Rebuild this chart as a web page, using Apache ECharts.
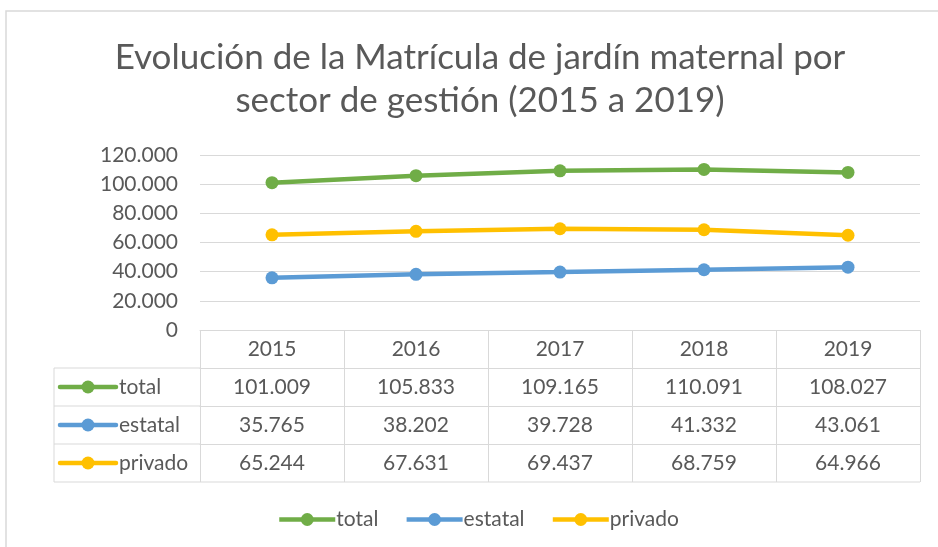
<!DOCTYPE html>
<html>
<head>
    <meta charset="utf-8">
    <title>Matrícula jardín maternal</title>
    <script src="https://cdn.jsdelivr.net/npm/echarts@6/dist/echarts.min.js"></script>
    <style>
        html, body { margin: 0; padding: 0; background: #fff; }
        #chart { width: 938px; height: 547px; }
    </style>
</head>
<body>
<div id="chart"></div>
<script type="text/javascript">
    // datos
    var years = ['2015', '2016', '2017', '2018', '2019'];
    var seriesNames = ['total', 'estatal', 'privado'];
    var total = [101009, 105833, 109165, 110091, 108027];
    var estatal = [35765, 38202, 39728, 41332, 43061];
    var privado = [65244, 67631, 69437, 68759, 64966];
    var colors = ['#70AD47', '#5B9BD5', '#FFC000'];

    var rows = [total, estatal, privado];
    var FONT = 'Lato';
    var GRAY = '#595959';
    var LINE = '#d9d9d9';
    var ROW_H = 38;
    var FS = 21;

    // 101009 -> "101.009"
    function fmt(v) {
        return String(v).replace(/\B(?=(\d{3})+(?!\d))/g, '.');
    }

    var myChart = echarts.init(document.getElementById('chart'));

    // eje principal (años) + un eje por fila de la tabla
    var xAxes = [{
        type: 'category',
        data: years,
        boundaryGap: true,
        axisLine: { lineStyle: { color: LINE, width: 1 } },
        axisTick: { show: true, length: ROW_H, interval: 0, lineStyle: { color: LINE } },
        axisLabel: { fontSize: FS, color: GRAY, fontFamily: FONT, margin: 9, interval: 0 }
    }];
    rows.forEach(function (r, i) {
        xAxes.push({
            type: 'category',
            position: 'bottom',
            offset: ROW_H * (i + 1),
            data: r.map(fmt),
            boundaryGap: true,
            axisLine: { lineStyle: { color: LINE, width: 1 } },
            axisTick: { show: true, length: ROW_H, interval: 0, lineStyle: { color: LINE } },
            axisLabel: { fontSize: FS, color: GRAY, fontFamily: FONT, margin: 9, interval: 0 }
        });
    });

    myChart.setOption({
        animation: false,
        color: colors,
        title: {
            text: 'Evolución de la Matrícula de jardín maternal por\nsector de gestión (2015 a 2019)',
            left: 475,
            top: 31,
            textAlign: 'center',
            textStyle: {
                fontSize: 35,
                fontWeight: 'normal',
                fontFamily: FONT,
                color: GRAY,
                lineHeight: 43
            }
        },
        legend: {
            bottom: 12,
            left: 272,
            itemWidth: 56,
            itemHeight: 16,
            itemGap: 26,
            data: seriesNames,
            lineStyle: { width: 4.5 },
            textStyle: { fontSize: FS, color: GRAY, fontFamily: FONT, padding: [0, 0, 0, -4] }
        },
        grid: {
            left: 200,
            right: 18,
            top: 155,
            bottom: 217,
            containLabel: false
        },
        xAxis: xAxes,
        yAxis: {
            type: 'value',
            min: 0,
            max: 120000,
            interval: 20000,
            axisLine: { show: false },
            axisTick: { show: false },
            splitLine: { lineStyle: { color: LINE, width: 1 } },
            axisLabel: {
                fontSize: FS, color: GRAY, fontFamily: FONT, margin: 22,
                formatter: function (v) { return fmt(v); }
            }
        },
        series: seriesNames.map(function (name, i) {
            return {
                name: name,
                type: 'line',
                data: rows[i],
                symbol: 'circle',
                symbolSize: 13,
                lineStyle: { width: 4.5 },
                itemStyle: { color: colors[i] }
            };
        })
    });

    // columna izquierda de la tabla (claves de leyenda) y borde exterior
    var y0 = myChart.convertToPixel({ yAxisIndex: 0 }, 0);
    var gx = myChart.convertToPixel({ xAxisIndex: 0 }, years[0]) - 72;
    var colLeft = 54;
    var gr = [];
    gr.push({
        type: 'rect', silent: true,
        shape: { x: 6, y: 11, width: 940, height: 545 },
        style: { fill: 'none', stroke: LINE, lineWidth: 1.5 }
    });
    for (var k = 1; k <= rows.length + 1; k++) {
        var yy = y0 + ROW_H * k;
        gr.push({
            type: 'line', silent: true,
            shape: { x1: colLeft, y1: yy, x2: (k === rows.length + 1 ? 920 : gx), y2: yy },
            style: { stroke: LINE, lineWidth: 1 }
        });
    }
    gr.push({
        type: 'line', silent: true,
        shape: { x1: colLeft, y1: y0 + ROW_H, x2: colLeft, y2: y0 + ROW_H * (rows.length + 1) },
        style: { stroke: LINE, lineWidth: 1 }
    });
    seriesNames.forEach(function (name, i) {
        var cy = y0 + ROW_H * (i + 1) + ROW_H / 2;
        gr.push({
            type: 'line', silent: true,
            shape: { x1: 60, y1: cy, x2: 116, y2: cy },
            style: { stroke: colors[i], lineWidth: 4.5, lineCap: 'round' }
        });
        gr.push({
            type: 'circle', silent: true,
            shape: { cx: 88, cy: cy, r: 6.5 },
            style: { fill: colors[i] }
        });
        gr.push({
            type: 'text', silent: true,
            x: 119, y: cy,
            style: {
                text: name, fill: GRAY, fontSize: FS, fontFamily: FONT,
                verticalAlign: 'middle', align: 'left'
            }
        });
    });
    myChart.setOption({ graphic: gr });
</script>
</body>
</html>
